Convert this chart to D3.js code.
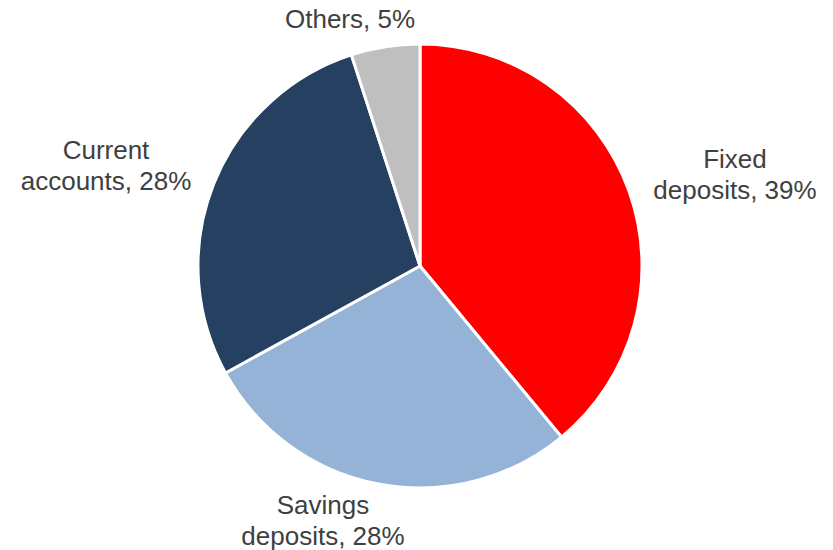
<!DOCTYPE html>
<html>
<head>
<meta charset="utf-8">
<script src="https://cdn.jsdelivr.net/npm/d3@7"></script>
<style>
  body { margin: 0; background: #fff; }
  svg { display: block; }
</style>
</head>
<body>
<script>
// deposit mix
const categories = ["Fixed deposits", "Savings deposits", "Current accounts", "Others"];
const shares = [39, 28, 28, 5];
const colors = ["#ff0000", "#95b3d7", "#254061", "#bfbfbf"];
// wrapped label lines as they appear in the chart
const labelLines = [
    ["Fixed", "deposits, 39%"],
    ["Savings", "deposits, 28%"],
    ["Current", "accounts, 28%"],
    ["Others, 5%"]
];
// label anchor (centre x, first baseline y)
const labelPos = [[735, 168], [323, 514], [106, 159], [350, 28]];

const width = 833,
    height = 550,
    cx = 420,
    cy = 266,
    radius = 222;

const svg = d3.select("body")
    .append("svg")
    .attr("width", width)
    .attr("height", height);

const pie = d3.pie()
    .sort(null)
    .value(d => d.value);

const arcs = pie(categories.map((c, i) => ({ name: c, value: shares[i] })));

const arc = d3.arc()
    .innerRadius(0)
    .outerRadius(radius);

const g = svg.append("g")
    .attr("transform", "translate(" + cx + "," + cy + ")");

g.selectAll("path")
    .data(arcs)
    .enter()
    .append("path")
    .attr("d", arc)
    .attr("fill", (d, i) => colors[i])
    .attr("stroke", "#fff")
    .attr("stroke-width", 3)
    .attr("stroke-linejoin", "round");

const labels = svg.selectAll("text.lbl")
    .data(arcs)
    .enter()
    .append("text")
    .attr("class", "lbl")
    .attr("x", (d, i) => labelPos[i][0])
    .attr("y", (d, i) => labelPos[i][1])
    .attr("text-anchor", "middle")
    .style("font-family", "'Liberation Sans', Arial, sans-serif")
    .style("font-size", "26px")
    .style("fill", "#404040");

labels.each(function(d, i) {
    const t = d3.select(this);
    labelLines[i].forEach((line, j) => {
        t.append("tspan")
            .attr("x", labelPos[i][0])
            .attr("dy", j === 0 ? 0 : 31)
            .text(line);
    });
});
</script>
</body>
</html>
